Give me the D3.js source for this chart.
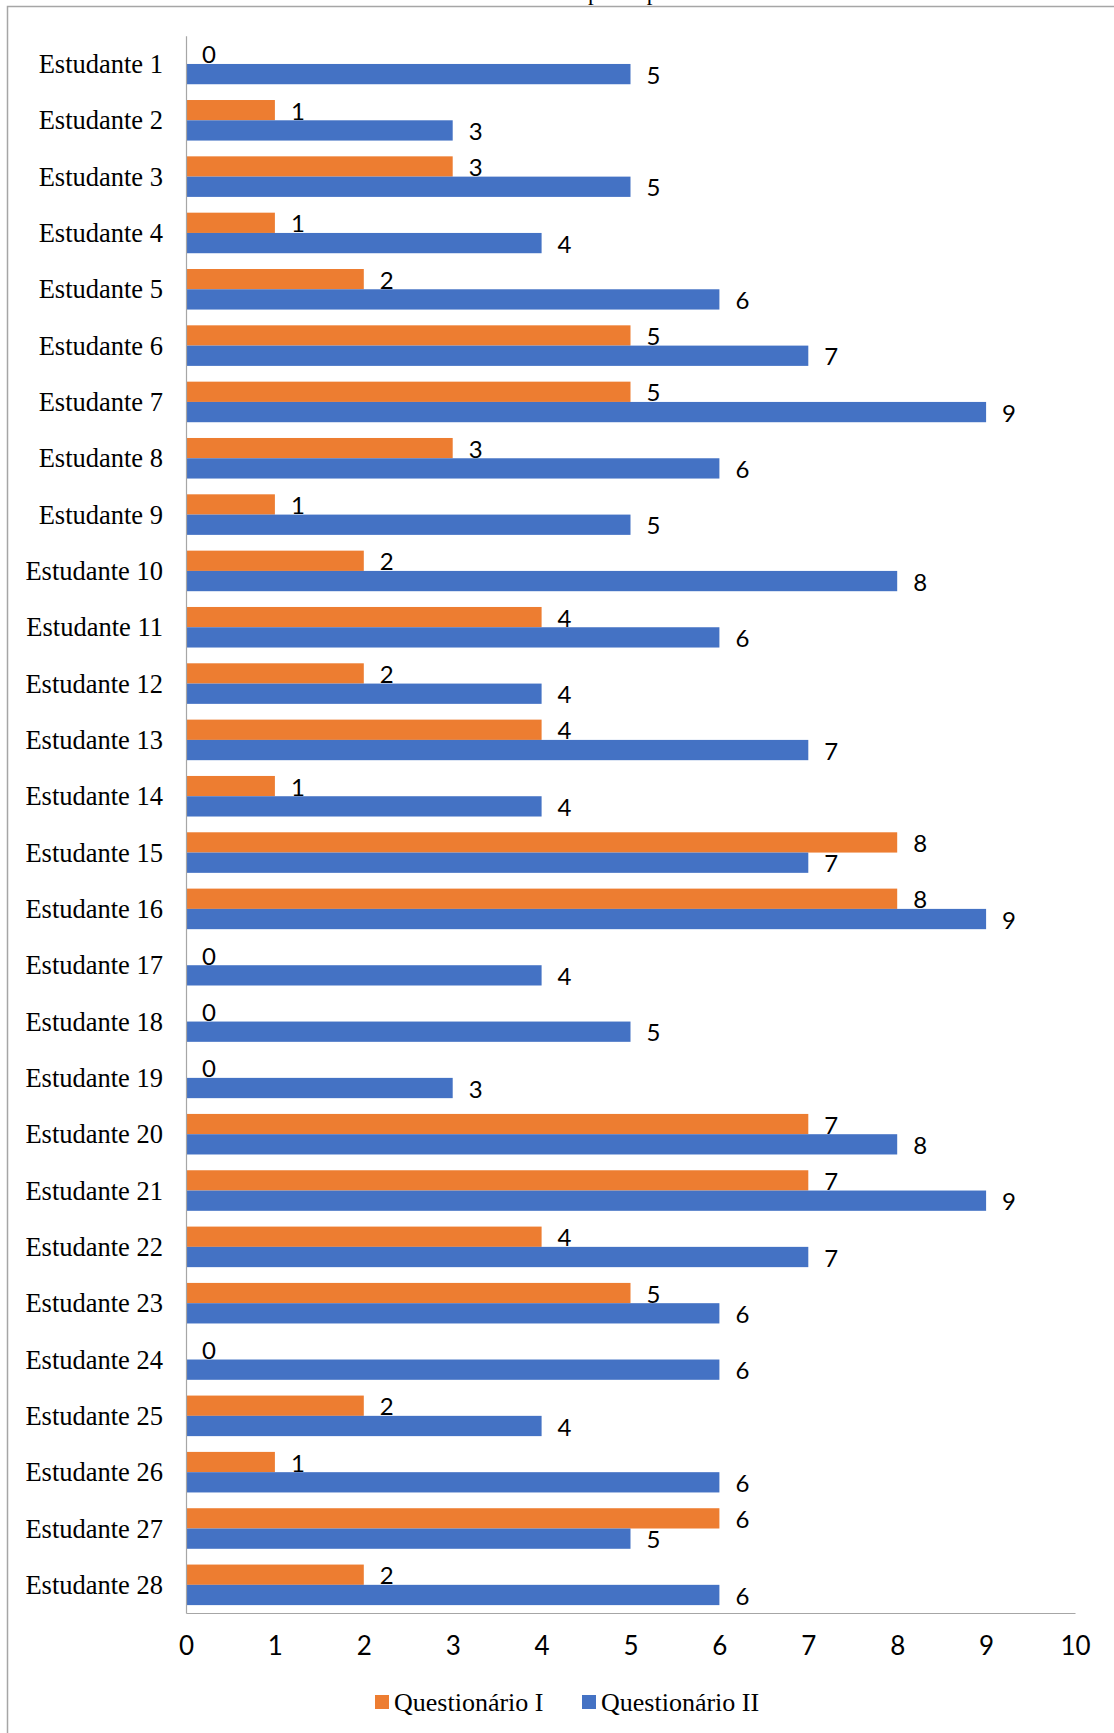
<!DOCTYPE html>
<html>
<head>
<meta charset="utf-8">
<script src="https://cdn.jsdelivr.net/npm/d3@7"></script>
<style>
  html, body { margin: 0; padding: 0; background: #ffffff; }
  svg { display: block; }
</style>
</head>
<body>
<svg id="chart" width="1114" height="1733"></svg>
<script>
// Students, one row per student, top to bottom
const students = [
  "Estudante 1", "Estudante 2", "Estudante 3", "Estudante 4", "Estudante 5",
  "Estudante 6", "Estudante 7", "Estudante 8", "Estudante 9", "Estudante 10",
  "Estudante 11", "Estudante 12", "Estudante 13", "Estudante 14", "Estudante 15",
  "Estudante 16", "Estudante 17", "Estudante 18", "Estudante 19", "Estudante 20",
  "Estudante 21", "Estudante 22", "Estudante 23", "Estudante 24", "Estudante 25",
  "Estudante 26", "Estudante 27", "Estudante 28"
];

// Scores in each questionnaire
const questionarioI  = [0, 1, 3, 1, 2, 5, 5, 3, 1, 2, 4, 2, 4, 1, 8, 8, 0, 0, 0, 7, 7, 4, 5, 0, 2, 1, 6, 2];
const questionarioII = [5, 3, 5, 4, 6, 7, 9, 6, 5, 8, 6, 4, 7, 4, 7, 9, 4, 5, 3, 8, 9, 7, 6, 6, 4, 6, 5, 6];

const seriesNames = ["Questionário I", "Questionário II"];
const seriesColors = ["#ED7D31", "#4472C4"];
const xTicks = [0, 1, 2, 3, 4, 5, 6, 7, 8, 9, 10];

const titleText = "Acertos dos participantes";

const svg = d3.select("#chart");

// Chart area frame
svg.append("rect")
  .attr("x", 7.5).attr("y", 6.5)
  .attr("width", 1200).attr("height", 1800)
  .attr("fill", "none")
  .attr("stroke", "#a6a6a6")
  .attr("stroke-width", 1.5);

// Title (mostly above the frame)
const title = svg.append("text")
  .attr("y", 0)
  .attr("font-family", "'Liberation Serif', 'Times New Roman', serif")
  .attr("font-size", 23)
  .attr("fill", "#000")
  .text(titleText);
{
  const idx = titleText.indexOf("p");
  const px = title.node().getStartPositionOfChar(idx).x;
  title.attr("x", 588 - px);
}

const plot = { left: 186, right: 1075, top: 35.8, bottom: 1613 };

const x = d3.scaleLinear().domain([0, 10]).range([plot.left, plot.right]);

const y = d3.scaleBand()
  .domain(students)
  .range([plot.top, plot.bottom])
  .paddingInner(0.28)
  .paddingOuter(0.14);

const ySub = d3.scaleBand()
  .domain(seriesNames)
  .range([0, y.bandwidth()]);

const rows = students.map((s, i) => ({
  student: s,
  values: [questionarioI[i], questionarioII[i]]
}));

const groups = svg.append("g").selectAll("g")
  .data(rows)
  .join("g")
  .attr("transform", d => `translate(0,${y(d.student)})`);

// Bars
groups.selectAll("rect")
  .data(d => d.values.map((v, k) => ({ v, k })))
  .join("rect")
  .attr("x", x(0))
  .attr("y", d => ySub(seriesNames[d.k]))
  .attr("width", d => x(d.v) - x(0))
  .attr("height", ySub.bandwidth())
  .attr("fill", d => seriesColors[d.k]);

// Value labels
groups.selectAll("text")
  .data(d => d.values.map((v, k) => ({ v, k })))
  .join("text")
  .attr("x", d => x(d.v) + 16)
  .attr("y", d => ySub(seriesNames[d.k]) + ySub.bandwidth() / 2 + 1)
  .attr("dy", "0.36em")
  .attr("font-family", "Lato, 'Open Sans', sans-serif")
  .attr("font-size", 24)
  .attr("fill", "#000")
  .text(d => d.v);

// Category axis
const yAxis = svg.append("g")
  .attr("transform", `translate(${plot.left},0)`)
  .call(d3.axisLeft(y).tickSize(0).tickPadding(23));
yAxis.select(".domain").attr("stroke", "#a6a6a6").attr("stroke-width", 1.2);
yAxis.selectAll("text")
  .attr("font-family", "'Liberation Serif', 'Times New Roman', serif")
  .attr("font-size", 26.5)
  .attr("fill", "#000")
  .attr("dy", "0.34em");

// Value axis
const xAxis = svg.append("g")
  .attr("transform", `translate(0,${plot.bottom})`)
  .call(d3.axisBottom(x).tickValues(xTicks).tickSize(0).tickPadding(24).tickFormat(d3.format("d")));
xAxis.select(".domain").attr("stroke", "#a6a6a6").attr("stroke-width", 1.2);
xAxis.selectAll("text")
  .attr("font-family", "Lato, 'Open Sans', sans-serif")
  .attr("font-size", 26)
  .attr("fill", "#000");

// Legend
const legendItems = [
  { name: seriesNames[0], color: seriesColors[0], x: 375 },
  { name: seriesNames[1], color: seriesColors[1], x: 582 }
];
const legend = svg.append("g").selectAll("g")
  .data(legendItems)
  .join("g")
  .attr("transform", d => `translate(${d.x},1702)`);
legend.append("rect")
  .attr("x", 0).attr("y", -7)
  .attr("width", 14).attr("height", 14)
  .attr("fill", d => d.color);
legend.append("text")
  .attr("x", 19).attr("y", 0)
  .attr("dy", "0.33em")
  .attr("font-family", "'Liberation Serif', 'Times New Roman', serif")
  .attr("font-size", 26)
  .attr("fill", "#000")
  .text(d => d.name);
</script>
</body>
</html>
